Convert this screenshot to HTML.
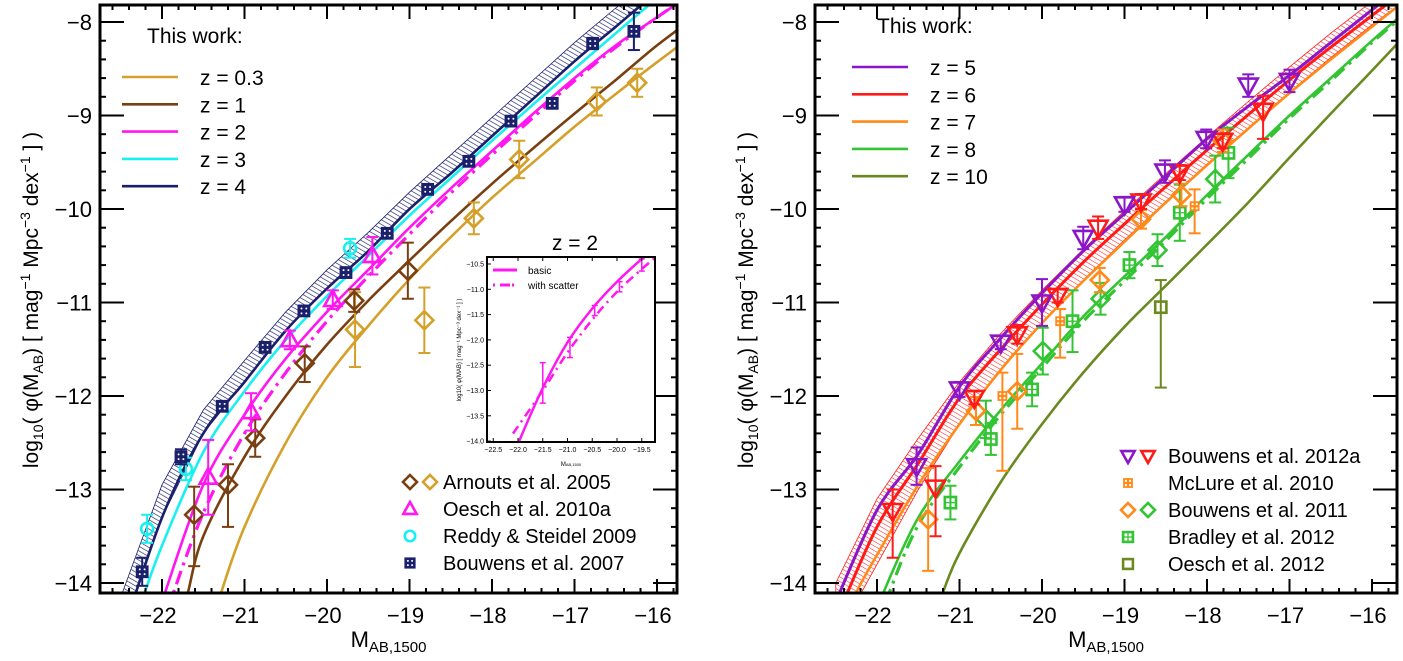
<!DOCTYPE html>
<html><head><meta charset="utf-8">
<style>
html,body{margin:0;padding:0;background:#fff;width:1403px;height:661px;overflow:hidden;}
svg{display:block;font-family:"Liberation Sans",Arial,sans-serif;}
</style></head>
<body>
<svg id="chart" width="1403" height="661" viewBox="0 0 1403 661" xmlns="http://www.w3.org/2000/svg">
<defs>
<pattern id="hatchNavy" patternUnits="userSpaceOnUse" width="4" height="4" patternTransform="rotate(-60)">
<line x1="0" y1="0" x2="0" y2="4" stroke="#1a1f6b" stroke-width="1.3"/></pattern>
<pattern id="hatchRed" patternUnits="userSpaceOnUse" width="4" height="4" patternTransform="rotate(-60)">
<line x1="0" y1="0" x2="0" y2="4" stroke="#ff2020" stroke-width="1.1"/></pattern>
<clipPath id="clipL"><rect x="100" y="5" width="577" height="588"/></clipPath>
<clipPath id="clipR"><rect x="815" y="5" width="582" height="588"/></clipPath>
<clipPath id="clipI"><rect x="487" y="257" width="168" height="185"/></clipPath>
</defs>
<g id="root"></g>
</svg>
<script>
// ---------------- DATA (left panel) ----------------
const gridL = [-22.5,-22,-21.5,-21,-20.5,-20,-19.5,-19,-18.5,-18,-17.5,-17,-16.5,-16,-15.5];
const z4Vals = [-14.6,-13.3,-12.4,-11.85,-11.3,-10.85,-10.45,-10.0,-9.62,-9.22,-8.82,-8.42,-8.05,-7.68,-7.35];
const z4BandHi = [-14.15,-12.95,-12.15,-11.62,-11.1,-10.65,-10.25,-9.82,-9.42,-9.02,-8.62,-8.22,-7.85,-7.5,-7.15];
const z3M = [-22.4,-22.25,-22,-21.5,-21,-20.5,-20,-19.5,-19,-18.5,-18,-17.5,-17,-16.5,-16,-15.5];
const z3Vals = [-14.55,-14.2,-13.6,-12.6,-11.95,-11.4,-10.93,-10.5,-10.07,-9.67,-9.27,-8.88,-8.5,-8.12,-7.75,-7.42];
const z2M = [-22.15,-22,-21.5,-21,-20.5,-20,-19.5,-19,-18.5,-18,-17.5,-17,-16.5,-16,-15.5];
const z2Vals = [-14.6,-14.2,-12.95,-12.2,-11.6,-11.1,-10.65,-10.2,-9.78,-9.38,-8.98,-8.6,-8.25,-7.95,-7.65];
const z2sM = [-22.05,-21.9,-21.5,-21,-20.5,-20,-19.5,-19,-18.5,-18,-17.5,-17,-16.5,-16,-15.5];
const z2sVals = [-14.6,-14.2,-13.25,-12.4,-11.75,-11.2,-10.72,-10.27,-9.83,-9.42,-9.02,-8.63,-8.27,-7.95,-7.65];
const z1M = [-21.85,-21.7,-21.5,-21,-20.5,-20,-19.5,-19,-18.5,-18,-17.5,-17,-16.5,-16,-15.5];
const z1Vals = [-14.6,-14.15,-13.5,-12.65,-12.0,-11.45,-10.98,-10.55,-10.13,-9.73,-9.35,-8.98,-8.62,-8.25,-7.92];
const z03M = [-21.45,-21.3,-21,-20.5,-20,-19.5,-19,-18.5,-18,-17.5,-17,-16.5,-16,-15.5];
const z03Vals = [-14.6,-14.15,-13.4,-12.5,-11.8,-11.25,-10.75,-10.3,-9.88,-9.5,-9.12,-8.77,-8.43,-8.1];
// Bouwens 2007 (z~4)
const b07M = [-22.24,-21.77,-21.27,-20.75,-20.28,-19.77,-19.27,-18.78,-18.28,-17.77,-17.27,-16.78,-16.28];
const b07V = [-13.88,-12.65,-12.11,-11.48,-11.09,-10.68,-10.26,-9.79,-9.49,-9.06,-8.87,-8.23,-8.1];
const b07E = [0.15,0.08,0.05,0.05,0.04,0.04,0.04,0.04,0.04,0.04,0.04,0.06,0.2];
// Arnouts 2005 z=1 (brown) and z=0.3 (gold)
const arnZ1M = [-21.61,-21.2,-20.87,-20.27,-19.67,-19.02];
const arnZ1V = [-13.27,-12.95,-12.45,-11.65,-10.98,-10.66];
const arnZ1Up = [0.3,0.22,0.2,0.18,0.12,0.3];
const arnZ1Dn = [0.55,0.45,0.2,0.2,0.12,0.3];
const arnZ03M = [-19.66,-18.82,-18.22,-17.67,-16.73,-16.24];
const arnZ03V = [-11.29,-11.19,-10.1,-9.47,-8.85,-8.65];
const arnZ03E = [0.4,0.35,0.17,0.2,0.15,0.15];
// Oesch 2010a (z~2)
const oeM = [-21.44,-20.92,-20.45,-19.93,-19.45];
const oeV = [-12.87,-12.17,-11.4,-10.97,-10.5];
const oeE = [0.4,0.2,0.1,0.1,0.2];
// Reddy & Steidel 2009 (z~3)
const rsM = [-22.18,-21.71,-19.72];
const rsV = [-13.42,-12.78,-10.42];
const rsE = [0.15,0.12,0.1];
// Inset (z=2)
const insBasicM = [-22.1,-22.0,-21.5,-21.0,-20.5,-20.0,-19.5,-19.2];
const insBasicV = [-14.3,-14.05,-12.95,-12.05,-11.38,-10.85,-10.4,-10.15];
const insScatM = [-22.1,-21.5,-21.0,-20.5,-20.0,-19.5,-19.2];
const insScatV = [-13.85,-13.0,-12.25,-11.6,-11.05,-10.6,-10.35];
const insPtM = [-21.5,-20.95,-20.45,-19.95,-19.5];
const insPtV = [-12.85,-12.15,-11.42,-10.95,-10.52];
const insPtE = [0.4,0.2,0.1,0.1,0.12];
// ---------------- DATA (right panel) ----------------
const gridR = [-22.5,-22,-21.5,-21,-20.5,-20,-19.5,-19,-18.5,-18,-17.5,-17,-16.5,-16,-15.5];
const z5Vals = [-14.2,-13.22,-12.62,-11.9,-11.38,-10.9,-10.45,-10.05,-9.65,-9.25,-8.9,-8.57,-8.22,-7.87,-7.52];
const z6Vals = [-14.4,-13.4,-12.72,-12.02,-11.5,-11.02,-10.57,-10.16,-9.76,-9.37,-8.99,-8.62,-8.27,-7.93,-7.6];
const bandRHi = [-14.0,-13.1,-12.45,-11.85,-11.33,-10.87,-10.43,-10.02,-9.62,-9.23,-8.85,-8.48,-8.12,-7.78,-7.45];
const bandRLo = [-14.6,-13.8,-13.0,-12.3,-11.72,-11.22,-10.76,-10.33,-9.92,-9.52,-9.13,-8.75,-8.38,-8.03,-7.7];
const z7M = [-22.4,-22.25,-22,-21.5,-21,-20.5,-20,-19.5,-19,-18.5,-18,-17.5,-17,-16.5,-16,-15.5];
const z7Vals = [-14.45,-14.1,-13.7,-12.95,-12.3,-11.72,-11.22,-10.77,-10.35,-9.93,-9.53,-9.14,-8.76,-8.4,-8.05,-7.7];
const z8M = [-22.1,-21.92,-21.5,-21,-20.5,-20,-19.5,-19,-18.5,-18,-17.5,-17,-16.5,-16,-15.5];
const z8Vals = [-14.55,-14.1,-13.3,-12.7,-12.15,-11.65,-11.15,-10.72,-10.3,-9.85,-9.42,-9.0,-8.6,-8.2,-7.82];
const z8sM = [-22.0,-21.85,-21.5,-21,-20.5,-20,-19.5,-19,-18.5,-18,-17.5,-17,-16.5,-16,-15.5];
const z8sVals = [-14.5,-14.1,-13.38,-12.76,-12.2,-11.7,-11.2,-10.77,-10.34,-9.89,-9.46,-9.03,-8.63,-8.22,-7.84];
const z10M = [-21.4,-21.2,-21,-20.5,-20,-19.5,-19,-18.5,-18,-17.5,-17,-16.5,-16,-15.5];
const z10Vals = [-14.6,-14.1,-13.68,-12.92,-12.3,-11.75,-11.26,-10.82,-10.38,-9.93,-9.45,-8.98,-8.52,-8.05];
// Bouwens 2012a z~5 (purple) and z~6 (red)
const b12z5M = [-21.52,-21.0,-20.5,-20.0,-19.5,-19.0,-18.51,-18.01,-17.5,-17.0];
const b12z5V = [-12.75,-11.93,-11.43,-11.0,-10.31,-9.95,-9.6,-9.25,-8.68,-8.63];
const b12z5E = [0.2,0.08,0.07,0.25,0.12,0.08,0.12,0.1,0.12,0.12];
const b12z6M = [-21.81,-21.29,-20.82,-20.3,-19.81,-19.32,-18.8,-18.33,-17.81,-17.32];
const b12z6Up = [0.23,0.23,0.07,0.1,0.07,0.12,0.08,0.08,0.08,0.16];
const b12z6Dn = [0.5,0.52,0.07,0.1,0.07,0.12,0.08,0.08,0.08,0.3];
const b12z6V = [-13.23,-12.98,-12.02,-11.34,-10.93,-10.2,-9.92,-9.61,-9.27,-8.95];
// McLure 2010 (orange squares)
const mcM = [-20.48,-19.78,-18.15];
const mcV = [-12.0,-11.2,-9.97];
const mcUp = [0.25,0.13,0.18];
const mcDn = [0.8,0.39,0.29];
// Bouwens 2011 z~7 (orange diamonds) and z~8 (green diamonds)
const b11z7M = [-21.38,-20.8,-20.3,-19.3,-18.8,-18.31,-17.81];
const b11z7V = [-13.32,-12.16,-11.95,-10.76,-10.11,-9.85,-9.27];
const b11z7E = [0.55,0.15,0.4,0.13,0.1,0.12,0.12];
const b11z8M = [-20.68,-19.99,-19.29,-18.6,-17.9];
const b11z8V = [-12.25,-11.52,-10.96,-10.44,-9.68];
const b11z8E = [0.2,0.25,0.17,0.17,0.25];
// Bradley 2012 (green squares)
const brM = [-21.11,-20.62,-20.12,-19.63,-18.94,-18.33,-17.74];
const brV = [-13.14,-12.46,-11.93,-11.2,-10.6,-10.04,-9.4];
const brE = [0.18,0.17,0.18,0.33,0.14,0.3,0.27];
// Oesch 2012 (olive)
const oe12M = [-18.56];
const oe12V = [-11.05];
const oe12Up = [0.29];
const oe12Dn = [0.86];

// ---------------- helpers ----------------
const NS = "http://www.w3.org/2000/svg";
const root = document.getElementById('root');
const C = {gold:'#d4a02a', brown:'#7a3f10', mag:'#ff16f0', cyan:'#19f0f0', navy:'#1a1f6b',
  purple:'#8a16c8', red:'#ff1a1a', orange:'#ff8a1a', green:'#33c433', olive:'#6a8a20'};
function mk(tag, attrs, parent){ const e=document.createElementNS(NS,tag); for(const k in attrs) e.setAttribute(k,attrs[k]); (parent||root).appendChild(e); return e; }
const xL = m => 162 + (m + 22) * 82.5;
const xR = m => 877 + (m + 22) * 82.5;
const yA = v => 583 - (v + 14) * 93.5;
const xI = m => 518 + (m + 22) * 49.5;
const yI = v => 264 + (-10.5 - v) * 50.6;
function pathD(xs, ys, fx, fy){
  const P = xs.map((m,i)=>[fx(m), fy(ys[i])]);
  let d = 'M'+P[0][0].toFixed(1)+','+P[0][1].toFixed(1);
  for(let i=0;i<P.length-1;i++){
    const p0=P[Math.max(0,i-1)], p1=P[i], p2=P[i+1], p3=P[Math.min(P.length-1,i+2)];
    const c1=[p1[0]+(p2[0]-p0[0])/6, p1[1]+(p2[1]-p0[1])/6];
    const c2=[p2[0]-(p3[0]-p1[0])/6, p2[1]-(p3[1]-p1[1])/6];
    d+=' C'+c1[0].toFixed(1)+','+c1[1].toFixed(1)+' '+c2[0].toFixed(1)+','+c2[1].toFixed(1)+' '+p2[0].toFixed(1)+','+p2[1].toFixed(1);
  }
  return d;
}
function curve(g, xs, ys, fx, fy, color, w, dash, name){
  const p = mk('path',{d:pathD(xs,ys,fx,fy), fill:'none', stroke:color, 'stroke-width':w}, g);
  if(dash) p.setAttribute('stroke-dasharray', dash);
  
  
  return p;
}
function band(g, xs, hi, lo, fx, fy, fill, stroke, name){
  const P1 = xs.map((m,i)=>[fx(m),fy(hi[i])]);
  const P2 = xs.map((m,i)=>[fx(m),fy(lo[i])]).reverse();
  const d = 'M'+P1.concat(P2).map(p=>p[0].toFixed(1)+','+p[1].toFixed(1)).join(' L')+'Z';
  const p = mk('path',{d:d, fill:fill, stroke:stroke, 'stroke-width':0.8}, g);
  
  
}
function errbar(g, x, y1, y2, color, w, cap){
  mk('line',{x1:x,y1:y1,x2:x,y2:y2,stroke:color,'stroke-width':w},g);
  mk('line',{x1:x-cap,y1:y1,x2:x+cap,y2:y1,stroke:color,'stroke-width':w},g);
  mk('line',{x1:x-cap,y1:y2,x2:x+cap,y2:y2,stroke:color,'stroke-width':w},g);
}
function marker(g, type, x, y, color, s){
  const sw = 2.6;
  if(type==='diamond') mk('polygon',{points:`${x},${y-s} ${x+s},${y} ${x},${y+s} ${x-s},${y}`,fill:'none',stroke:color,'stroke-width':sw},g);
  else if(type==='tri') mk('polygon',{points:`${x},${y-s} ${x+s*0.95},${y+s*0.7} ${x-s*0.95},${y+s*0.7}`,fill:'none',stroke:color,'stroke-width':sw},g);
  else if(type==='tridown') mk('polygon',{points:`${x},${y+s} ${x+s*0.95},${y-s*0.7} ${x-s*0.95},${y-s*0.7}`,fill:'none',stroke:color,'stroke-width':sw},g);
  else if(type==='circle') mk('circle',{cx:x,cy:y,r:s*0.75,fill:'none',stroke:color,'stroke-width':sw},g);
  else if(type==='fsquare'){ mk('rect',{x:x-s*0.8,y:y-s*0.8,width:s*1.6,height:s*1.6,fill:color},g);
    [[-0.3,-0.3],[0.3,-0.3],[-0.3,0.3],[0.3,0.3]].forEach(o=>mk('circle',{cx:x+o[0]*s,cy:y+o[1]*s,r:1,fill:'#fff'},g)); }
  else if(type==='osquare') mk('rect',{x:x-s*0.7,y:y-s*0.7,width:s*1.4,height:s*1.4,fill:'none',stroke:color,'stroke-width':sw},g);
  else if(type==='xsquare'){ mk('rect',{x:x-s*0.7,y:y-s*0.7,width:s*1.4,height:s*1.4,fill:'none',stroke:color,'stroke-width':sw},g);
    mk('line',{x1:x-s*0.7,y1:y,x2:x+s*0.7,y2:y,stroke:color,'stroke-width':1.3},g);
    mk('line',{x1:x,y1:y-s*0.7,x2:x,y2:y+s*0.7,stroke:color,'stroke-width':1.3},g); }
  else if(type==='dsquare'){ mk('rect',{x:x-s*0.7,y:y-s*0.7,width:s*1.4,height:s*1.4,fill:color},g);
    [[-0.3,-0.3],[0.3,-0.3],[-0.3,0.3],[0.3,0.3]].forEach(o=>mk('circle',{cx:x+o[0]*s,cy:y+o[1]*s,r:1.1,fill:'#fff'},g)); }
}
function series(g, type, Ms, Vs, up, dn, fx, fy, color, s, name){
  Ms.forEach((m,i)=>{
    const pg = mk('g',{},g);
    
    
    const x = fx(m), y = fy(Vs[i]);
    errbar(pg, x, fy(Vs[i]+up[i]), fy(Vs[i]-dn[i]), color, 2, 6);
    marker(pg, type, x, y, color, s);
  });
}
function axes(x0, x1, fx, label){
  const g = mk('g',{});
  
  
  for(let m=-23; m<=-15.5; m+=0.2){
    const mm = Math.round(m*10)/10;
    const x = fx(mm); if(x<x0+1||x>x1-1) continue;
    const major = Math.abs(mm-Math.round(mm))<0.01;
    const L = major?14:5;
    mk('line',{x1:x,y1:593,x2:x,y2:593-L,stroke:'#000','stroke-width':2},g);
    mk('line',{x1:x,y1:5,x2:x,y2:5+L,stroke:'#000','stroke-width':2},g);
    if(major){ const t=mk('text',{x:x-4,y:623,'font-size':22,'text-anchor':'middle'},g); t.textContent='\u2212'+Math.abs(Math.round(mm)); }
  }
  for(let v=-14.2; v<=-7.7; v+=0.2){
    const vv = Math.round(v*10)/10;
    const y = yA(vv); if(y<6||y>592) continue;
    const major = Math.abs(vv-Math.round(vv))<0.01;
    const L = major?24:6;
    mk('line',{x1:x0,y1:y,x2:x0+L,y2:y,stroke:'#000','stroke-width':2},g);
    mk('line',{x1:x1,y1:y,x2:x1-L,y2:y,stroke:'#000','stroke-width':2},g);
    if(major){ const t=mk('text',{x:x0-8,y:y+8,'font-size':22,'text-anchor':'end'},g); t.textContent='\u2212'+Math.abs(Math.round(vv)); }
  }
  mk('rect',{x:x0,y:5,width:x1-x0,height:588,fill:'none',stroke:'#000','stroke-width':3},g);
  const xt = mk('text',{x:(x0+x1)/2,y:647,'font-size':22,'text-anchor':'middle'},g);
  
  
  xt.innerHTML = 'M<tspan font-size="15" dy="5">AB,1500</tspan>';
  const yt = mk('text',{x:0,y:0,'font-size':21,'text-anchor':'middle',transform:`translate(${x0-62},300) rotate(-90)`},g);
  
  
  yt.innerHTML = 'log<tspan font-size="14" dy="5">10</tspan><tspan dy="-5">( \u03c6(M</tspan><tspan font-size="14" dy="5">AB</tspan><tspan dy="-5">) [ mag</tspan><tspan font-size="14" dy="-8">\u22121</tspan><tspan dy="8"> Mpc</tspan><tspan font-size="14" dy="-8">\u22123</tspan><tspan dy="8"> dex</tspan><tspan font-size="14" dy="-8">\u22121</tspan><tspan dy="8"> ] )</tspan>';
}
function legendLines(x, y0, items, name){
  const g = mk('g',{});
  
  
  const h = mk('text',{x:x+25,y:y0,'font-size':21},g); h.textContent='This work:';
  items.forEach((it,i)=>{
    const y = y0+41+i*27.3;
    mk('line',{x1:x,y1:y-7,x2:x+56,y2:y-7,stroke:it[1],'stroke-width':2.6},g);
    const t = mk('text',{x:x+78,y:y+1,'font-size':21},g); t.textContent=it[0];
  });
}
function legendMarkers(xm, xt, y0, items, name){
  const g = mk('g',{});
  
  
  items.forEach((it,i)=>{
    const y = y0 + i*27;
    it[0].forEach((mt,j)=> marker(g, mt[0], xm + j*20, y, mt[1], 7));
    const t = mk('text',{x:xt,y:y+7,'font-size':20},g); t.textContent = it[1];
  });
}

// ---------------- LEFT PANEL ----------------
const gL = mk('g',{'clip-path':'url(#clipL)'});


band(gL, gridL, z4BandHi, z4Vals, xL, yA, 'url(#hatchNavy)', C.navy, 'z4-uncertainty-band');
curve(gL, z03M, z03Vals, xL, yA, C.gold, 2.6, null, 'curve-z0.3');
curve(gL, z1M, z1Vals, xL, yA, C.brown, 2.6, null, 'curve-z1');
curve(gL, z2sM, z2sVals, xL, yA, C.mag, 3.2, '14,6,3,6', 'curve-z2-scatter');
curve(gL, z2M, z2Vals, xL, yA, C.mag, 2.6, null, 'curve-z2');
curve(gL, z3M, z3Vals, xL, yA, C.cyan, 2.6, null, 'curve-z3');
curve(gL, gridL, z4Vals, xL, yA, C.navy, 2.6, null, 'curve-z4');
series(gL,'diamond',arnZ03M,arnZ03V,arnZ03E,arnZ03E,xL,yA,C.gold,9,'arnouts-z0.3');
series(gL,'diamond',arnZ1M,arnZ1V,arnZ1Up,arnZ1Dn,xL,yA,C.brown,9,'arnouts-z1');
series(gL,'tri',oeM,oeV,oeE,oeE,xL,yA,C.mag,9,'oesch-2010a');
series(gL,'circle',rsM,rsV,rsE,rsE,xL,yA,C.cyan,8,'reddy-steidel');
series(gL,'fsquare',b07M,b07V,b07E,b07E,xL,yA,C.navy,8,'bouwens-2007');
axes(100, 677, xL, 'left');
legendLines(122, 43, [['z = 0.3',C.gold],['z = 1',C.brown],['z = 2',C.mag],['z = 3',C.cyan],['z = 4',C.navy]], 'left-legend-this-work');
legendMarkers(410, 443, 482, [
  [[['diamond',C.brown],['diamond',C.gold]],'Arnouts et al. 2005'],
  [[['tri',C.mag]],'Oesch et al. 2010a'],
  [[['circle',C.cyan]],'Reddy & Steidel 2009'],
  [[['fsquare',C.navy]],'Bouwens et al. 2007']], 'left-legend-data');
// Inset
const gI0 = mk('g',{});


mk('rect',{x:487,y:257,width:168,height:185,fill:'#fff',stroke:'none'},gI0);
const it1 = mk('text',{x:575,y:250,'font-size':21,'text-anchor':'middle'},gI0); it1.textContent='z = 2';
const gI = mk('g',{'clip-path':'url(#clipI)'},gI0);
curve(gI, insBasicM, insBasicV, xI, yI, C.mag, 2.5, null, 'inset-curve-basic');
curve(gI, insScatM, insScatV, xI, yI, C.mag, 2.5, '9,5,2,5', 'inset-curve-scatter');
insPtM.forEach((m,i)=>{ errbar(gI, xI(m), yI(insPtV[i]+insPtE[i]), yI(insPtV[i]-insPtE[i]), C.mag, 1.5, 3); });
mk('rect',{x:487,y:257,width:168,height:185,fill:'none',stroke:'#000','stroke-width':2},gI0);
[-22.5,-22,-21.5,-21,-20.5,-20,-19.5].forEach(m=>{ const x=xI(m);
  mk('line',{x1:x,y1:442,x2:x,y2:438,stroke:'#000','stroke-width':1},gI0);
  mk('line',{x1:x,y1:257,x2:x,y2:261,stroke:'#000','stroke-width':1},gI0);
  const t=mk('text',{x:x,y:452,'font-size':7,'text-anchor':'middle'},gI0); t.textContent='\u2212'+Math.abs(m).toFixed(1); });
[-10.5,-11,-11.5,-12,-12.5,-13,-13.5,-14].forEach(v=>{ const y=yI(v);
  mk('line',{x1:487,y1:y,x2:491,y2:y,stroke:'#000','stroke-width':1},gI0);
  const t=mk('text',{x:484,y:y+2.5,'font-size':7,'text-anchor':'end'},gI0); t.textContent='\u2212'+Math.abs(v).toFixed(1); });
const ixt = mk('text',{x:571,y:466,'font-size':6,'text-anchor':'middle'},gI0); ixt.innerHTML='M<tspan font-size="4">AB,1500</tspan>';
const iyt = mk('text',{x:0,y:0,'font-size':6,'text-anchor':'middle',transform:'translate(461,350) rotate(-90)'},gI0); iyt.textContent='log10( \u03c6(MAB) [ mag\u207b\u00b9 Mpc\u207b\u00b3 dex\u207b\u00b9 ] )';
mk('line',{x1:493,y1:270,x2:517,y2:270,stroke:C.mag,'stroke-width':3},gI0);
mk('line',{x1:493,y1:285,x2:517,y2:285,stroke:C.mag,'stroke-width':3,'stroke-dasharray':'2,5,10,2'},gI0);
const il1=mk('text',{x:528,y:274,'font-size':10},gI0); il1.textContent='basic';
const il2=mk('text',{x:528,y:289,'font-size':10},gI0); il2.textContent='with scatter';

// ---------------- RIGHT PANEL ----------------
const gR = mk('g',{'clip-path':'url(#clipR)'});


band(gR, gridR, bandRHi, bandRLo, xR, yA, 'url(#hatchRed)', C.red, 'z6-uncertainty-band');
curve(gR, z10M, z10Vals, xR, yA, C.olive, 2.6, null, 'curve-z10');
curve(gR, z8sM, z8sVals, xR, yA, C.green, 3.2, '14,6,3,6', 'curve-z8-scatter');
curve(gR, z8M, z8Vals, xR, yA, C.green, 2.6, null, 'curve-z8');
curve(gR, z7M, z7Vals, xR, yA, C.orange, 2.6, null, 'curve-z7');
curve(gR, gridR, z6Vals, xR, yA, C.red, 3, null, 'curve-z6');
curve(gR, gridR, z5Vals, xR, yA, C.purple, 3, null, 'curve-z5');
series(gR,'xsquare',brM,brV,brE,brE,xR,yA,C.green,8,'bradley-2012');
series(gR,'diamond',b11z8M,b11z8V,b11z8E,b11z8E,xR,yA,C.green,9,'bouwens-2011-z8');
series(gR,'diamond',b11z7M,b11z7V,b11z7E,b11z7E,xR,yA,C.orange,9,'bouwens-2011-z7');
series(gR,'dsquare',mcM,mcV,mcUp,mcDn,xR,yA,C.orange,7,'mclure-2010');
series(gR,'osquare',oe12M,oe12V,oe12Up,oe12Dn,xR,yA,C.olive,8,'oesch-2012');
series(gR,'tridown',b12z6M,b12z6V,b12z6Up,b12z6Dn,xR,yA,C.red,10,'bouwens-2012a-z6');
series(gR,'tridown',b12z5M,b12z5V,b12z5E,b12z5E,xR,yA,C.purple,10,'bouwens-2012a-z5');
axes(815, 1397, xR, 'right');
legendLines(852, 33, [['z = 5',C.purple],['z = 6',C.red],['z = 7',C.orange],['z = 8',C.green],['z = 10',C.olive]], 'right-legend-this-work');
legendMarkers(1128, 1168, 456, [
  [[['tridown',C.purple],['tridown',C.red]],'Bouwens et al. 2012a'],
  [[['dsquare',C.orange]],'McLure et al. 2010'],
  [[['diamond',C.orange],['diamond',C.green]],'Bouwens et al. 2011'],
  [[['xsquare',C.green]],'Bradley et al. 2012'],
  [[['osquare',C.olive]],'Oesch et al. 2012']], 'right-legend-data');
</script>
</body></html>
